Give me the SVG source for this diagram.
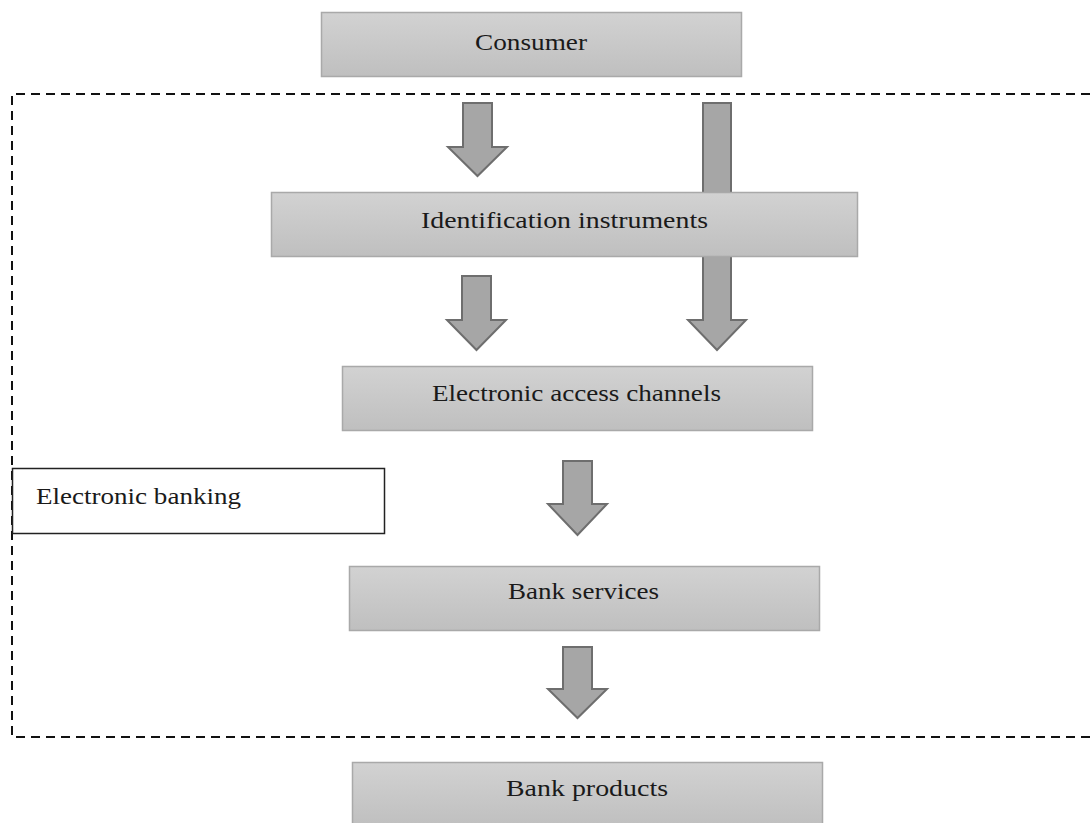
<svg xmlns="http://www.w3.org/2000/svg" width="1090" height="823" viewBox="0 0 1090 823">
<defs>
<linearGradient id="g" x1="0" y1="0" x2="0" y2="1">
<stop offset="0" stop-color="#d2d2d2"/>
<stop offset="1" stop-color="#bfbfbf"/>
</linearGradient>
</defs>
<style>
.box{fill:url(#g);stroke:#a9a9a9;stroke-width:1.5}
.arr{fill:#a6a6a6;stroke:#6e6e6e;stroke-width:2;stroke-linejoin:miter}
.t{font-family:"Liberation Serif","Times New Roman",serif;font-size:23px;fill:#1a1a1a;text-anchor:middle}
.frame{fill:none;stroke:#111;stroke-width:2;stroke-dasharray:9,6}
</style>
<rect width="1090" height="823" fill="#fff"/>
<g id="frame">
<path class="frame" d="M1090,94 H12 V737 H1090"/>
</g>
<g id="connectors">
<path class="arr" d="M463,103 H492 V147 H507 L477.5,176 L448,147 H463 Z"/>
<path class="arr" d="M703,103 H731 V320 H746 L717,350 L688,320 H703 Z"/>
<path class="arr" d="M462,276 H491 V320 H506 L476.5,350 L447,320 H462 Z"/>
<path class="arr" d="M563,461 H592 V504 H607 L577.5,535 L548,504 H563 Z"/>
<path class="arr" d="M563,647 H592 V689 H607 L577.5,718 L548,689 H563 Z"/>
</g>
<g id="consumer">
<rect class="box" x="321.5" y="12.5" width="420" height="64"/>
<text class="t" x="531" y="50" textLength="112" lengthAdjust="spacingAndGlyphs">Consumer</text>
</g>
<g id="identification">
<rect class="box" x="271.5" y="192.5" width="586" height="64"/>
<text class="t" x="564.5" y="228" textLength="287" lengthAdjust="spacingAndGlyphs">Identification instruments</text>
</g>
<g id="channels">
<rect class="box" x="342.5" y="366.5" width="470" height="64"/>
<text class="t" x="576.5" y="401" textLength="289" lengthAdjust="spacingAndGlyphs">Electronic access channels</text>
</g>
<g id="banking">
<rect x="12.5" y="468.5" width="372" height="65" fill="#fff" stroke="#222" stroke-width="1.5"/>
<text class="t" x="36" y="504" style="text-anchor:start" textLength="205" lengthAdjust="spacingAndGlyphs">Electronic banking</text>
</g>
<g id="services">
<rect class="box" x="349.5" y="566.5" width="470" height="64"/>
<text class="t" x="583.5" y="599" textLength="151" lengthAdjust="spacingAndGlyphs">Bank services</text>
</g>
<g id="products">
<rect class="box" x="352.5" y="762.5" width="470" height="64"/>
<text class="t" x="587" y="796" textLength="162" lengthAdjust="spacingAndGlyphs">Bank products</text>
</g>
</svg>
